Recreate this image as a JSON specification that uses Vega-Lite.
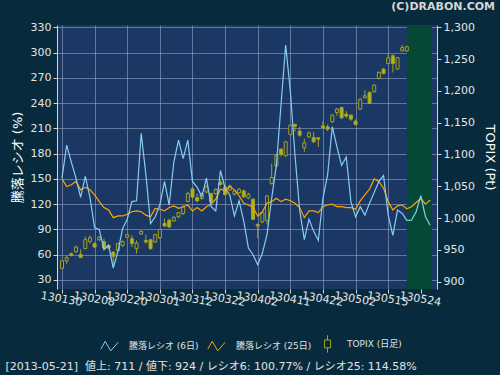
{
  "$schema": "https://vega.github.io/schema/vega-lite/v6.json",
  "width": 380,
  "height": 264,
  "autosize": {"type": "none"},
  "padding": {"left": 57, "top": 25, "right": 63, "bottom": 86},
  "background": "#072b3c",
  "config": {
    "font": "DejaVu Sans, Noto Sans CJK JP",
    "view": {"fill": "#1b3763", "stroke": null},
    "axis": {"labelColor": "#e4e4e4", "labelFontSize": 11, "tickColor": "#cfd6e2", "domainColor": "#cfd6e2", "gridColor": "#a9b7d0", "gridOpacity": 0.5, "titleColor": "#ffffff", "titleFontWeight": "normal", "titleFontSize": 13, "zindex": 1, "tickSize": 4, "labelOverlap": false}
  },
  "title": {"text": "(C)DRABON.COM", "anchor": "end", "frame": "group", "dx": 58, "fontSize": 11, "fontWeight": "bold", "color": "#d5d5d5", "offset": 9, "font": "DejaVu Sans"},
  "datasets": {
    "d": [
      {"i": 0, "d": "130130", "o": 921, "h": 934, "l": 920, "c": 933, "r6": 151, "r25": 150},
      {"i": 1, "d": "130131", "o": 932.5, "h": 941, "l": 928, "c": 937.7, "r6": 190, "r25": 141},
      {"i": 2, "d": "130201", "o": 944, "h": 946, "l": 940, "c": 941, "r6": 170, "r25": 143},
      {"i": 3, "d": "130204", "o": 947, "h": 957, "l": 945, "c": 954.5, "r6": 151, "r25": 147},
      {"i": 4, "d": "130205", "o": 943, "h": 951, "l": 937, "c": 938, "r6": 128, "r25": 137},
      {"i": 5, "d": "130206", "o": 952, "h": 971, "l": 951, "c": 966, "r6": 153, "r25": 140},
      {"i": 6, "d": "130207", "o": 963, "h": 973, "l": 960, "c": 969, "r6": 128, "r25": 137},
      {"i": 7, "d": "130208", "o": 960, "h": 962, "l": 953, "c": 954.5, "r6": 92, "r25": 131},
      {"i": 8, "d": "130212", "o": 966, "h": 972, "l": 964, "c": 970, "r6": 90, "r25": 123},
      {"i": 9, "d": "130213", "o": 963, "h": 968, "l": 951, "c": 953, "r6": 66, "r25": 116},
      {"i": 10, "d": "130214", "o": 957, "h": 959, "l": 951, "c": 953, "r6": 71, "r25": 113},
      {"i": 11, "d": "130215", "o": 946.6, "h": 948, "l": 925, "c": 940, "r6": 44, "r25": 104},
      {"i": 12, "d": "130218", "o": 949, "h": 961, "l": 948, "c": 960, "r6": 64, "r25": 106},
      {"i": 13, "d": "130219", "o": 957, "h": 965, "l": 955, "c": 963, "r6": 91, "r25": 106},
      {"i": 14, "d": "130220", "o": 970, "h": 975, "l": 968, "c": 974, "r6": 102, "r25": 108},
      {"i": 15, "d": "130221", "o": 967.6, "h": 973, "l": 954.5, "c": 960, "r6": 123, "r25": 111},
      {"i": 16, "d": "130222", "o": 952, "h": 965, "l": 944, "c": 961, "r6": 124, "r25": 112},
      {"i": 17, "d": "130225", "o": 975, "h": 981, "l": 974, "c": 979, "r6": 204, "r25": 111},
      {"i": 18, "d": "130226", "o": 965, "h": 974, "l": 960, "c": 962.4, "r6": 155, "r25": 107},
      {"i": 19, "d": "130227", "o": 966, "h": 967, "l": 950, "c": 952, "r6": 97, "r25": 105},
      {"i": 20, "d": "130228", "o": 962.4, "h": 975, "l": 961, "c": 974, "r6": 105, "r25": 115},
      {"i": 21, "d": "130301", "o": 969, "h": 983, "l": 967, "c": 982, "r6": 119, "r25": 114},
      {"i": 22, "d": "130304", "o": 991.8, "h": 999, "l": 986, "c": 987.6, "r6": 147, "r25": 112},
      {"i": 23, "d": "130305", "o": 996.5, "h": 999, "l": 984.4, "c": 986, "r6": 119, "r25": 116},
      {"i": 24, "d": "130306", "o": 995.5, "h": 1003, "l": 994, "c": 1001, "r6": 170, "r25": 118},
      {"i": 25, "d": "130307", "o": 1002, "h": 1009.6, "l": 1000, "c": 1008.6, "r6": 196, "r25": 115},
      {"i": 26, "d": "130308", "o": 1007, "h": 1020, "l": 1005, "c": 1017.5, "r6": 174, "r25": 117},
      {"i": 27, "d": "130311", "o": 1026, "h": 1041, "l": 1025, "c": 1038.5, "r6": 196, "r25": 119},
      {"i": 28, "d": "130312", "o": 1046, "h": 1049, "l": 1030.6, "c": 1033, "r6": 147, "r25": 112},
      {"i": 29, "d": "130313", "o": 1032, "h": 1038.5, "l": 1025.4, "c": 1027, "r6": 140, "r25": 116},
      {"i": 30, "d": "130314", "o": 1030.6, "h": 1040, "l": 1029, "c": 1038.5, "r6": 129, "r25": 112},
      {"i": 31, "d": "130315", "o": 1041, "h": 1051.6, "l": 1039, "c": 1049, "r6": 151, "r25": 117},
      {"i": 32, "d": "130318", "o": 1038.5, "h": 1040, "l": 1024, "c": 1025.4, "r6": 117, "r25": 120},
      {"i": 33, "d": "130319", "o": 1038.5, "h": 1047, "l": 1037, "c": 1045, "r6": 112, "r25": 126},
      {"i": 34, "d": "130321", "o": 1055.8, "h": 1059.5, "l": 1051, "c": 1052.7, "r6": 160, "r25": 138},
      {"i": 35, "d": "130322", "o": 1049, "h": 1051.6, "l": 1035.6, "c": 1037, "r6": 139, "r25": 136},
      {"i": 36, "d": "130325", "o": 1044, "h": 1052.7, "l": 1042.7, "c": 1050.6, "r6": 131, "r25": 141},
      {"i": 37, "d": "130326", "o": 1037.5, "h": 1044, "l": 1036, "c": 1042.7, "r6": 106, "r25": 137},
      {"i": 38, "d": "130327", "o": 1040, "h": 1047, "l": 1038.5, "c": 1045.3, "r6": 124, "r25": 130},
      {"i": 39, "d": "130328", "o": 1042.7, "h": 1045, "l": 1031.7, "c": 1033.3, "r6": 100, "r25": 121},
      {"i": 40, "d": "130329", "o": 1031.7, "h": 1040, "l": 1029.6, "c": 1037.5, "r6": 68, "r25": 119},
      {"i": 41, "d": "130401", "o": 1029.6, "h": 1031, "l": 997, "c": 998, "r6": 60, "r25": 116},
      {"i": 42, "d": "130402", "o": 990.2, "h": 991, "l": 968.7, "c": 987.6, "r6": 48, "r25": 106},
      {"i": 43, "d": "130403", "o": 994, "h": 1010, "l": 992, "c": 1008.6, "r6": 62, "r25": 111},
      {"i": 44, "d": "130404", "o": 996.5, "h": 1036, "l": 990, "c": 1034.8, "r6": 84, "r25": 121},
      {"i": 45, "d": "130405", "o": 1054.3, "h": 1085.8, "l": 1052.7, "c": 1063.7, "r6": 127, "r25": 123},
      {"i": 46, "d": "130408", "o": 1082, "h": 1101, "l": 1080, "c": 1099, "r6": 166, "r25": 127},
      {"i": 47, "d": "130409", "o": 1108.3, "h": 1110, "l": 1097, "c": 1100, "r6": 238, "r25": 123},
      {"i": 48, "d": "130410", "o": 1098, "h": 1121, "l": 1096, "c": 1120, "r6": 309, "r25": 126},
      {"i": 49, "d": "130411", "o": 1131.4, "h": 1147, "l": 1130, "c": 1146, "r6": 254, "r25": 124},
      {"i": 50, "d": "130412", "o": 1147.2, "h": 1148.5, "l": 1135.6, "c": 1144.5, "r6": 178, "r25": 121},
      {"i": 51, "d": "130415", "o": 1136.7, "h": 1143.5, "l": 1127.7, "c": 1130.4, "r6": 113, "r25": 116},
      {"i": 52, "d": "130416", "o": 1110.4, "h": 1125, "l": 1104, "c": 1118.3, "r6": 78, "r25": 104},
      {"i": 53, "d": "130417", "o": 1127.7, "h": 1136, "l": 1126, "c": 1134, "r6": 102, "r25": 112},
      {"i": 54, "d": "130418", "o": 1126.7, "h": 1135.6, "l": 1118, "c": 1120, "r6": 88, "r25": 112},
      {"i": 55, "d": "130419", "o": 1126.2, "h": 1127, "l": 1112, "c": 1124.1, "r6": 77, "r25": 110},
      {"i": 56, "d": "130422", "o": 1145, "h": 1152.4, "l": 1141, "c": 1142, "r6": 127, "r25": 117},
      {"i": 57, "d": "130423", "o": 1143.5, "h": 1147, "l": 1136.7, "c": 1139.8, "r6": 155, "r25": 119},
      {"i": 58, "d": "130424", "o": 1151.4, "h": 1163, "l": 1150, "c": 1162, "r6": 212, "r25": 120},
      {"i": 59, "d": "130425", "o": 1166, "h": 1173.4, "l": 1160.8, "c": 1171.3, "r6": 188, "r25": 117},
      {"i": 60, "d": "130426", "o": 1174, "h": 1175, "l": 1156, "c": 1157.7, "r6": 166, "r25": 117},
      {"i": 61, "d": "130430", "o": 1163.4, "h": 1168.2, "l": 1157.7, "c": 1160.3, "r6": 176, "r25": 116},
      {"i": 62, "d": "130501", "o": 1162, "h": 1162.5, "l": 1153, "c": 1155.6, "r6": 123, "r25": 116},
      {"i": 63, "d": "130502", "o": 1152.4, "h": 1155, "l": 1146, "c": 1147.2, "r6": 105, "r25": 114},
      {"i": 64, "d": "130507", "o": 1171.3, "h": 1188, "l": 1170, "c": 1187, "r6": 117, "r25": 124},
      {"i": 65, "d": "130508", "o": 1189.2, "h": 1201, "l": 1188, "c": 1192.3, "r6": 107, "r25": 131},
      {"i": 66, "d": "130509", "o": 1197.6, "h": 1199, "l": 1179, "c": 1180.2, "r6": 121, "r25": 138},
      {"i": 67, "d": "130510", "o": 1198.6, "h": 1210, "l": 1197, "c": 1209, "r6": 134, "r25": 150},
      {"i": 68, "d": "130513", "o": 1219.6, "h": 1231, "l": 1218, "c": 1229, "r6": 147, "r25": 147},
      {"i": 69, "d": "130514", "o": 1234.3, "h": 1236, "l": 1226, "c": 1227.5, "r6": 154, "r25": 139},
      {"i": 70, "d": "130515", "o": 1243, "h": 1257.4, "l": 1241.7, "c": 1251.6, "r6": 107, "r25": 123},
      {"i": 71, "d": "130516", "o": 1255.3, "h": 1257.4, "l": 1229, "c": 1243.2, "r6": 83, "r25": 113},
      {"i": 72, "d": "130517", "o": 1234.3, "h": 1253, "l": 1233, "c": 1252.2, "r6": 113, "r25": 118},
      {"i": 73, "d": "130520", "o": 1263.2, "h": 1272, "l": 1261.6, "c": 1268, "r6": 109, "r25": 119},
      {"i": 74, "d": "130521", "o": 1262.7, "h": 1271, "l": 1261.6, "c": 1269.5, "r6": 100.77, "r25": 114.58},
      {"i": 75, "d": "130522", "r6": 101, "r25": 117},
      {"i": 76, "d": "130523", "r6": 111, "r25": 122},
      {"i": 77, "d": "130524", "r6": 130, "r25": 127},
      {"i": 78, "d": "130527", "r6": 105, "r25": 120},
      {"i": 79, "d": "130528", "r6": 95, "r25": 125}
    ],
    "fut": [{"from": 74, "to": 79.4}],
    "leg": [{"s": "騰落レシオ (6日)"}, {"s": "騰落レシオ (25日)"}, {"s": "TOPIX (日足)"}]
  },
  "data": {"name": "d"},
  "encoding": {
    "x": {
      "field": "i", "type": "quantitative",
      "scale": {"domain": [0, 79.4], "nice": false, "zero": false},
      "axis": {
        "values": [0, 7, 14, 21, 28, 35, 42, 49, 56, 63, 70, 77],
        "labelExpr": "['130130','130208','130220','130301','130312','130322','130402','130411','130422','130502','130515','130524'][round(datum.value/7)]",
        "grid": true, "domain": false, "labelAngle": 10, "labelAlign": "center", "labelBaseline": "top", "labelPadding": 0, "labelFontSize": 11,
        "title": "[2013-05-21]\u00a0\u00a0値上: 711 / 値下: 924 / レシオ6: 100.77% / レシオ25: 114.58%",
        "titleX": -52, "titleY": 77, "titleAlign": "left", "titleAnchor": "start", "titleBaseline": "middle",
        "titleFontSize": 11, "titleColor": "#e2e2e2"
      }
    }
  },
  "layer": [
    {
      "data": {"name": "fut"},
      "mark": {"type": "rect", "color": "#054836"},
      "encoding": {"x": {"field": "from", "type": "quantitative"}, "x2": {"field": "to"}}
    },
    {
      "transform": [{"filter": "isValid(datum.c)"}],
      "encoding": {
        "y": {"type": "quantitative", "scale": {"domain": [888.5, 1303.6], "nice": false, "zero": false},
              "axis": {"orient": "right", "values": [900, 950, 1000, 1050, 1100, 1150, 1200, 1250, 1300], "format": ",d", "grid": false, "title": "TOPIX (Pt)", "titlePadding": 8, "labelPadding": 2}}
      },
      "layer": [
        {
          "mark": {"type": "rule", "color": "#a3a31e", "strokeWidth": 1},
          "encoding": {"y": {"field": "l", "type": "quantitative"}, "y2": {"field": "h"}}
        },
        {
          "mark": {"type": "bar", "size": 3, "stroke": "#a3a31e", "strokeWidth": 1},
          "encoding": {
            "y": {"field": "o", "type": "quantitative"}, "y2": {"field": "c"},
            "fill": {"condition": {"test": "datum.c < datum.o", "value": "#b3b31c"}, "value": "#1b3763"}
          }
        }
      ]
    },
    {
      "encoding": {
        "y": {"type": "quantitative", "scale": {"domain": [19.3, 332.7], "nice": false, "zero": false},
              "axis": {"orient": "left", "values": [30, 60, 90, 120, 150, 180, 210, 240, 270, 300, 330], "grid": true, "title": "騰落レシオ (%)", "titlePadding": 6, "labelPadding": 2}}
      },
      "layer": [
        {
          "mark": {"type": "line", "color": "#ffa500", "strokeWidth": 1.2},
          "encoding": {"y": {"field": "r25", "type": "quantitative"}}
        },
        {
          "mark": {"type": "line", "color": "#87cdf0", "strokeWidth": 1.2},
          "encoding": {"y": {"field": "r6", "type": "quantitative"}}
        }
      ]
    },
    {
      "data": {"name": "leg"},
      "mark": {"type": "point", "filled": false, "opacity": 0},
      "encoding": {
        "x": {"value": 0},
        "color": {
          "field": "s", "type": "nominal",
          "scale": {"domain": ["騰落レシオ (6日)", "騰落レシオ (25日)", "TOPIX (日足)"], "range": ["#87cdf0", "#ffa500", "#a3a31e"]},
          "legend": {"orient": "none", "legendX": 43, "legendY": 309, "direction": "horizontal", "title": null, "labelColor": "#e0e0e0", "labelFontSize": 9, "symbolSize": 300, "symbolStrokeWidth": 1, "symbolOpacity": 1, "labelOffset": 10, "columnPadding": 6}
        },
        "shape": {
          "field": "s", "type": "nominal",
          "scale": {"domain": ["騰落レシオ (6日)", "騰落レシオ (25日)", "TOPIX (日足)"], "range": ["M-1,0.4L-0.5,-0.5L0.15,0.6L1,-0.4", "M-1,0.4L-0.5,-0.5L0.15,0.6L1,-0.4", "M0,-1L0,-0.45M-0.35,-0.45L0.35,-0.45L0.35,0.45L-0.35,0.45ZM0,0.45L0,1"]}
        }
      }
    }
  ],
  "resolve": {"scale": {"y": "independent"}}
}
